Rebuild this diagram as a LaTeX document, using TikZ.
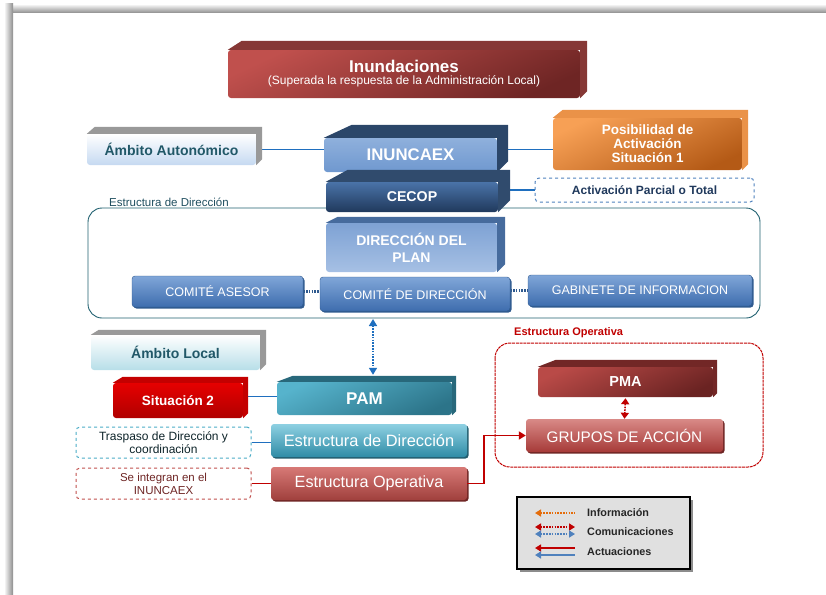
\documentclass[tikz,border=0pt]{standalone}
\usepackage{fontspec}
\setmainfont{Liberation Sans}
\usetikzlibrary{arrows.meta,shadows,calc,backgrounds}

\definecolor{azulenlace}{HTML}{1F6FBF}
\definecolor{azulcomite}{HTML}{2F5A8F}
\definecolor{tealtexto}{HTML}{215868}
\definecolor{tealborde}{HTML}{1F5F6F}
\definecolor{tealetiq}{HTML}{1F4E5F}
\definecolor{rojoact}{HTML}{C00000}
\definecolor{azulley}{HTML}{4F81BD}
\definecolor{naranjaley}{HTML}{E46C0A}
\definecolor{comA}{HTML}{80A6D8}
\definecolor{comB}{HTML}{5584C3}
\definecolor{comC}{HTML}{3E6DAE}

\newcommand{\tam}[2]{\fontsize{#1}{#2}\selectfont}
% caras superior y lateral de las cajas en relieve
\newcommand{\caras}[5]{%
	\fill[#5] (#1.north west) -- ($(#1.north west)+(#4,-#3)$) -- ($(#1.north east)+(#2,-#3)$) -- ($(#1.south east)+(#2,-#2)$) -- (#1.south east) -- (#1.north east) -- cycle;}

\tikzset{
	medida/.style 2 args={minimum width=#1, minimum height=#2},
	frente/.style={rounded corners=3pt, inner sep=0pt, align=center, text=white},
	comite/.style={frente, draw=azulcomite, top color=comA, middle color=comB, bottom color=comC,
		drop shadow={shadow xshift=1.5pt, shadow yshift=-1.5pt, fill=azulcomite, opacity=1}, font=\tam{12.5}{14}},
	discont/.style={rounded corners=4pt, dashed, line width=1pt, inner sep=0pt, align=center},
	enlace/.style={azulenlace, line width=1.6pt},
	punteado/.style={line width=2.2pt, dash pattern=on 1.6pt off 1.2pt},
	comunica/.style={azulenlace, line width=1.6pt, dash pattern=on 1.6pt off 1.2pt, {Triangle[width=8pt,length=7pt]}-{Triangle[width=8pt,length=7pt]}},
	actua/.style={rojoact, line width=1.8pt, -{Triangle[width=8pt,length=7pt]}},
	textoley/.style={anchor=west, inner sep=0pt, font=\bfseries\tam{10.8}{12}, text=black!85},
}

\begin{document}
\begin{tikzpicture}[x=1pt,y=-1pt]
	\useasboundingbox (0,0) rectangle (826,594);
	% marco
	\shade[top color=white, bottom color=black!45] (4,4) rectangle (826,13);
	\shade[left color=white, right color=black!45] (4,4) rectangle (13,594);

	% contenedores
	\draw[tealborde, line width=0.9pt, rounded corners=14pt] (88,208) rectangle (760,318);
	\node[anchor=south west, inner sep=0pt, text=tealetiq, font=\tam{11.5}{13}] (etdir) at (109,207) {Estructura de Dirección};
	\draw[rojoact, line width=1pt, dash pattern=on 3pt off 0.8pt, rounded corners=15pt] (495,343) rectangle (763,467);
	\node[anchor=south west, inner sep=0pt, text=rojoact, font=\bfseries\tam{11}{12}] (etop) at (514,338) {Estructura Operativa};

	% nivel autonomico
	\definecolor{c1}{HTML}{C0504D}\definecolor{c2}{HTML}{6E2524}
	\node[frente, medida={352}{48}, top color=c1, bottom color=c2, shading angle=25] (inund) at (404,74)
		{{\bfseries\tam{17}{19}Inundaciones}\\[0pt]{\tam{12}{14}(Superada la respuesta de la Administración Local)}};
	\caras{inund}{7}{9}{14}{c1!70!black}

	\definecolor{c3}{HTML}{C5D9F1}
	\node[frente, medida={169}{31}, top color=white, bottom color=c3, text=tealtexto, font=\bfseries\tam{14}{16}] (autonomico) at (171.5,149.5) {Ámbito Autonómico};
	\caras{autonomico}{6}{7}{8}{black!40}

	\definecolor{c4}{HTML}{8FB0DC}\definecolor{c5}{HTML}{4E7FBF}\definecolor{c6}{HTML}{6F98CF}
	\node[frente, medida={173}{34}, top color=c4, middle color=c5, bottom color=c6, font=\bfseries\tam{16.8}{18}] (inuncaex) at (410.5,155) {INUNCAEX};
	\caras{inuncaex}{11}{13}{28}{c5!55!black}

	\definecolor{c7}{HTML}{F7A055}\definecolor{c8}{HTML}{B45A16}
	\node[frente, medida={189}{52}, top color=c7, bottom color=c8, shading angle=25, font=\bfseries\tam{13.5}{14}] (posib) at (647.5,144) {Posibilidad de\\Activación\\Situación 1};
	\caras{posib}{6}{8}{10}{c7!80!c8}

	\definecolor{c9}{HTML}{4A73A8}\definecolor{c10}{HTML}{20395C}
	\node[frente, medida={172}{30}, top color=c9, bottom color=c10, font=\bfseries\tam{14.2}{16}] (cecop) at (412,197) {CECOP};
	\caras{cecop}{12}{12}{22}{c9!65!black}

	\node[discont, draw=azulley, medida={219}{24}, text=c10, font=\bfseries\tam{12}{13}] (activ) at (644.5,190) {Activación Parcial o Total};

	% estructura de direccion
	\definecolor{c11}{HTML}{7EA2D4}\definecolor{c12}{HTML}{5886C4}\definecolor{c13}{HTML}{A6C0E4}
	\node[frente, medida={171}{49}, top color=c11, middle color=c12, bottom color=c13, font=\bfseries\tam{14}{17}] (dirplan) at (411.5,247.5) {DIRECCIÓN DEL\\PLAN};
	\caras{dirplan}{8}{6}{12}{c12!80!black}

	\node[comite, medida={171}{31}] (asesor) at (217.5,291.5) {COMITÉ ASESOR};
	\node[comite, medida={190}{34}] (comdir) at (415,294) {COMITÉ DE DIRECCIÓN};
	\node[comite, medida={224}{31}] (gabinete) at (640,290.5) {GABINETE DE INFORMACION};

	% nivel local
	\definecolor{c14}{HTML}{B7DEE8}
	\node[frente, medida={169}{35}, top color=white, bottom color=c14, text=tealtexto, font=\bfseries\tam{14}{16}] (local) at (175.5,352.5) {Ámbito Local};
	\caras{local}{6}{5}{8}{black!40}

	\definecolor{c15}{HTML}{E60000}\definecolor{c16}{HTML}{B00000}
	\node[frente, medida={130}{35}, top color=c15, bottom color=c16, font=\bfseries\tam{13.5}{15}] (sit2) at (178,400.5) {Situación 2};
	\caras{sit2}{5}{6}{10}{c15!85!black}

	\definecolor{c17}{HTML}{56B3CC}\definecolor{c18}{HTML}{2C7489}
	\node[frente, medida={175}{33}, top color=c17, bottom color=c18, shading angle=25, font=\bfseries\tam{17}{19}] (pam) at (364.5,398.5) {PAM};
	\caras{pam}{4}{6}{16}{c18!90!black}

	\definecolor{c19}{HTML}{4BACC6}
	\node[discont, draw=c19, medida={175}{31}, text=black!70!c18, font=\tam{12}{13}] (traspaso) at (163.5,442.5) {Traspaso de Dirección y\\coordinación};
	\definecolor{c20}{HTML}{8ED0E2}\definecolor{c21}{HTML}{2F8CA6}
	\node[frente, medida={196}{33}, top color=c20, middle color=c19, bottom color=c21,
		drop shadow={shadow xshift=1.5pt, shadow yshift=-1.5pt, fill=c18!80!black, opacity=1}, font=\tam{16.4}{18}] (estdir) at (369,440.5) {Estructura de Dirección};

	\node[discont, draw=c1, medida={175}{31}, text=c2, font=\tam{11.5}{13}] (integran) at (163.5,483.5) {Se integran en el\\INUNCAEX};
	\definecolor{c22}{HTML}{D77976}\definecolor{c23}{HTML}{A0403D}
	\node[frente, medida={196}{33}, top color=c22, middle color=c1, bottom color=c23,
		drop shadow={shadow xshift=1.5pt, shadow yshift=-1.5pt, fill=c2, opacity=1}, font=\tam{16.2}{18}] (estop) at (369,483.5) {Estructura Operativa};

	% estructura operativa
	\definecolor{c24}{HTML}{B94A47}\definecolor{c25}{HTML}{6A2322}
	\node[frente, medida={175}{30}, top color=c24, bottom color=c25, shading angle=25, font=\bfseries\tam{14.5}{16}] (pma) at (625.5,382) {PMA};
	\caras{pma}{4}{7}{18}{c25!90!c24}
	\definecolor{c26}{HTML}{D98A87}\definecolor{c27}{HTML}{A63A38}
	\node[frente, medida={197}{33}, top color=c26, middle color=c1, bottom color=c27,
		drop shadow={shadow xshift=1.5pt, shadow yshift=-1.5pt, fill=c2, opacity=1}, font=\tam{15.3}{17}] (grupos) at (624.5,435.5) {GRUPOS DE ACCIÓN};

	% leyenda
	\node[draw=black, line width=1.5pt, fill=black!12, medida={173}{72}, inner sep=0pt,
		drop shadow={shadow xshift=3pt, shadow yshift=-3pt, fill=black!45, opacity=1}] (leyenda) at (603.5,533) {};
	\node[textoley] (info) at (587,513) {Información};
	\node[textoley] (comun) at (587,532) {Comunicaciones};
	\node[textoley] (actuac) at (587,552) {Actuaciones};
	\draw[naranjaley, line width=1.6pt, dash pattern=on 1.6pt off 1.2pt, {Triangle[width=7pt,length=6pt]}-] ($(info.west)+(-52,0)$) -- ($(info.west)+(-12,0)$);
	\draw[rojoact, line width=1.6pt, dash pattern=on 1.6pt off 1.2pt, {Triangle[width=7pt,length=6pt]}-{Triangle[width=7pt,length=6pt]}] ($(comun.west)+(-52,-5)$) -- ($(comun.west)+(-12,-5)$);
	\draw[azulley, line width=1.6pt, dash pattern=on 1.6pt off 1.2pt, {Triangle[width=7pt,length=6pt]}-{Triangle[width=7pt,length=6pt]}] ($(comun.west)+(-52,2)$) -- ($(comun.west)+(-12,2)$);
	\draw[rojoact, line width=1.8pt, {Triangle[width=7pt,length=6pt]}-] ($(actuac.west)+(-52,-4)$) -- ($(actuac.west)+(-12,-4)$);
	\draw[azulley, line width=1.8pt, {Triangle[width=7pt,length=6pt]}-] ($(actuac.west)+(-52,3)$) -- ($(actuac.west)+(-12,3)$);

	% conexiones
	\coordinate (dirbase) at (373,319);
	\draw[comunica] (dirbase) -- ($(pam.north -| dirbase)+(0,-7)$);
	\draw[rojoact, line width=1.6pt, dash pattern=on 1.6pt off 1.2pt, {Triangle[width=8pt,length=6pt]}-{Triangle[width=8pt,length=6pt]}] ($(pma.south)+(0,1)$) -- (grupos.north);
	\draw[actua] (estop.east) -- ++(17,0) |- (grupos.west);
	\begin{scope}[on background layer]
		\draw[enlace] (autonomico.east) -- (autonomico.east -| inuncaex.west);
		\draw[enlace] (inuncaex.east |- autonomico.east) -- (posib.west |- autonomico.east);
		\draw[enlace] (cecop.east |- activ.west) -- (activ.west);
		\draw[enlace] ($(sit2.east)+(0,-4)$) -- ($(sit2.east -| pam.west)+(0,-4)$);
		\draw[enlace] (traspaso.east) -- (traspaso.east -| estdir.west);
		\draw[rojoact, line width=1.6pt] (integran.east) -- (estop.west);
		\draw[punteado, azulcomite] (asesor.east) -- (asesor.east -| comdir.west);
		\draw[punteado, azulcomite] (comdir.east |- gabinete.west) -- (gabinete.west);
	\end{scope}
\end{tikzpicture}
\end{document}
